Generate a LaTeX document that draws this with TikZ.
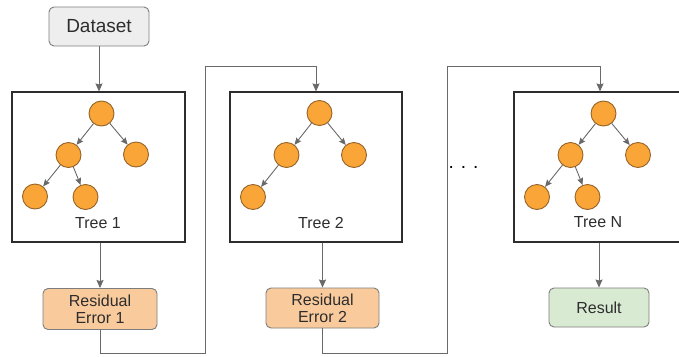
\documentclass[tikz,border=0pt]{standalone}
\usepackage{fontspec}
\setmainfont{Liberation Sans}
\usetikzlibrary{arrows.meta}

\definecolor{leaf}{RGB}{250,165,55}
\definecolor{leafline}{RGB}{150,100,40}
\definecolor{wirecol}{RGB}{105,105,105}
\definecolor{errfill}{RGB}{249,203,156}
\definecolor{resfill}{RGB}{217,234,211}
\definecolor{datafill}{RGB}{238,238,238}
\definecolor{ink}{RGB}{45,45,45}
\definecolor{rim}{RGB}{125,125,125}

\begin{document}
\begin{tikzpicture}[x=1pt,y=-1pt,
  treenode/.style={circle,draw=leafline,fill=leaf,line width=0.9pt,minimum size=25pt,inner sep=0pt},
  branch/.style={draw=wirecol,line width=0.9pt,-{Stealth[length=7pt,width=6pt,inset=1pt]}},
  flow/.style={draw=wirecol,line width=1pt},
  flowarrow/.style={flow,-{Stealth[length=8pt,width=7pt,inset=1pt]}},
  treebox/.style={draw=ink,line width=1.1pt,minimum height=150pt,inner sep=0pt},
  treelabel/.style={font=\fontsize{16}{18}\selectfont,text=ink,inner sep=0pt},
  roundbox/.style={rounded corners=5pt,draw=rim,line width=0.9pt,inner sep=0pt,
    font=\fontsize{16}{17}\selectfont,text=ink,align=center}
]
\useasboundingbox (0,0) rectangle (679,356);

% input data
\node[roundbox,fill=datafill,minimum width=100pt,minimum height=39pt,
      font=\fontsize{19}{21}\selectfont] (data) at (99,26.5) {Dataset};

% frames of the three trees
\node[treebox,minimum width=173pt] (box1) at (98.5,167) {};
\node[treebox,minimum width=172pt] (box2) at (316,167) {};
\node[treebox,minimum width=172pt] (boxN) at (600,167) {};

% tree 1
\node[treenode] (r1) at (101.5,113.5) {};
\node[treenode] (a1) at (68.5,155) {};
\node[treenode] (b1) at (136,154.5) {};
\node[treenode] (c1) at (35,196.5) {};
\node[treenode] (d1) at (85.5,197) {};
\draw[branch] (r1) -- (a1);
\draw[branch] (r1) -- (b1);
\draw[branch] (a1) -- (c1);
\draw[branch] (a1) -- (d1);
\node[treelabel] (t1) at (98,223) {Tree 1};

% tree 2
\node[treenode] (r2) at (319.5,113) {};
\node[treenode] (a2) at (286.5,155) {};
\node[treenode] (b2) at (354,155) {};
\node[treenode] (c2) at (253,197) {};
\draw[branch] (r2) -- (a2);
\draw[branch] (r2) -- (b2);
\draw[branch] (a2) -- (c2);
\node[treelabel] (t2) at (321,222.5) {Tree 2};

% tree N
\node[treenode] (rN) at (603.5,113.5) {};
\node[treenode] (aN) at (570.5,155) {};
\node[treenode] (bN) at (638,155) {};
\node[treenode] (cN) at (537,197) {};
\node[treenode] (dN) at (587.5,197) {};
\draw[branch] (rN) -- (aN);
\draw[branch] (rN) -- (bN);
\draw[branch] (aN) -- (cN);
\draw[branch] (aN) -- (dN);
\node[treelabel] (tN) at (598,222.5) {Tree N};

% residuals and result
\node[roundbox,fill=errfill,minimum width=114pt,minimum height=41pt] (err1) at (100,309) {Residual\\Error 1};
\node[roundbox,fill=errfill,minimum width=113pt,minimum height=40pt] (err2) at (322.5,308) {Residual\\Error 2};
\node[roundbox,fill=resfill,minimum width=100pt,minimum height=39pt] (res) at (599,307.5) {Result};

% ellipsis between tree 2 and tree N
\node[inner sep=0pt,font=\fontsize{19}{21}\selectfont,text=black] (dots) at (463.5,167) {. . .};

% routing points of the feedback lines
\coordinate (j1) at (205,353);
\coordinate (k1) at (205,66);
\coordinate (j2) at (447,353);
\coordinate (k2) at (447,66);

% connectors
\draw[flowarrow] (data.south) -- (data.south |- box1.north);
\draw[flowarrow] (err1.north |- box1.south) -- (err1.north);
\draw[flowarrow] (err1.south) |- (j1) -- (k1) -| (box2.north);
\draw[flowarrow] (err2.north |- box2.south) -- (err2.north);
\draw[flowarrow] (err2.south) |- (j2) -- (k2) -| (boxN.north);
\draw[flowarrow] (res.north |- boxN.south) -- (res.north);
\end{tikzpicture}
\end{document}
